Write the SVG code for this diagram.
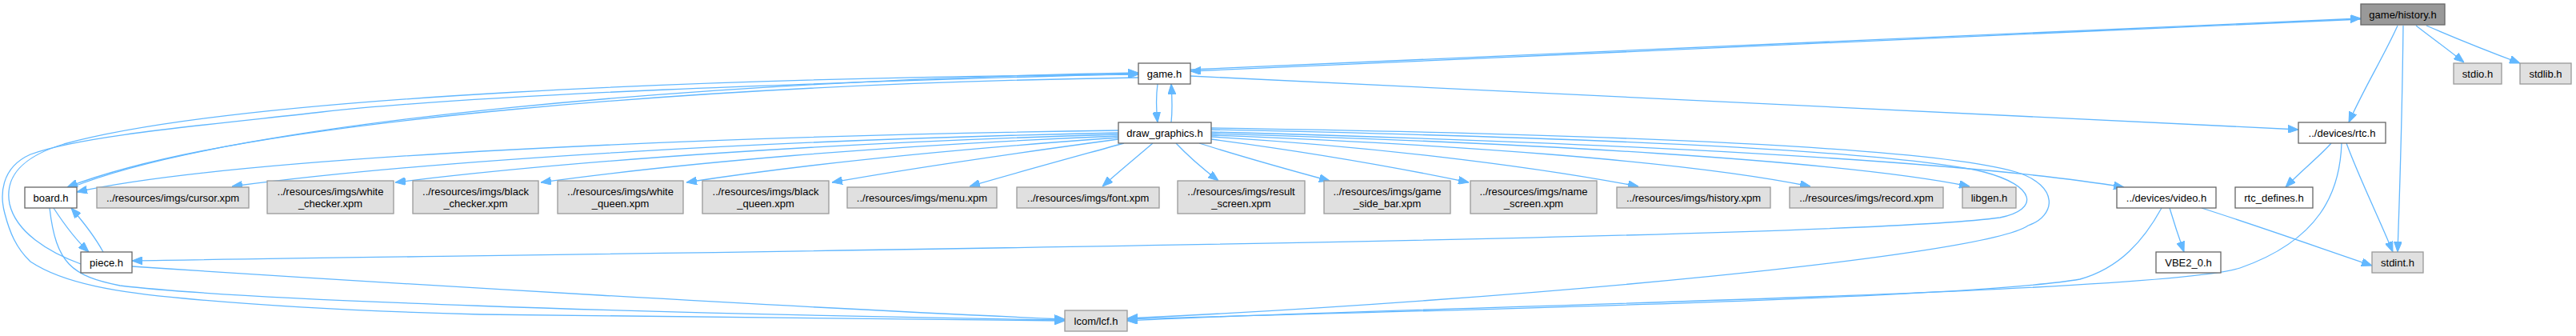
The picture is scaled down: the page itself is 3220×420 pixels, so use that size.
<svg xmlns="http://www.w3.org/2000/svg" width="3220" height="420" viewBox="0 0 3220 420">
<style>
text{font-family:"Liberation Sans",Arial,sans-serif;font-size:13px;fill:#000;text-anchor:middle}
.w{fill:#fff;stroke:#666;stroke-width:1.3}
.g{fill:#e0e0e0;stroke:#999;stroke-width:1.3}
.r{fill:#999;stroke:#666;stroke-width:1.3}
.e{fill:none;stroke:#63b8ff;stroke-width:1.3;marker-end:url(#a)}
</style>
<defs>
<marker id="a" markerUnits="userSpaceOnUse" viewBox="0 0 13 10" refX="13" refY="5" markerWidth="13" markerHeight="10" orient="auto">
<path d="M0,0 L13,5 L0,10 z" fill="#63b8ff" stroke="#63b8ff" stroke-width="1"/>
</marker>
</defs>
<rect width="3220" height="420" fill="#fff"/>
<g id="edges">
<path class="e" d="M2951,24 L1488,89"/>
<path class="e" d="M1488,87 L2951,23"/>
<path class="e" d="M2997,32 C2980,70 2955,110 2936,153"/>
<path class="e" d="M3004,32 C3003,120 3000,230 2997,315"/>
<path class="e" d="M3020,32 C3038,46 3060,62 3080,78"/>
<path class="e" d="M3033,32 C3070,48 3110,64 3150,79"/>
<path class="e" d="M1488,95 L2873,162"/>
<path class="e" d="M1447,105 C1445,120 1445,135 1447,153"/>
<path class="e" d="M1464,153 C1466,135 1465,120 1464,105"/>
<path class="e" d="M2914,179 C2900,195 2875,215 2857,234"/>
<path class="e" d="M2933,179 C2950,225 2975,275 2991,315"/>
<path class="e" d="M2927,179 C2925,240 2900,300 2800,335 C2700,368 1700,385 1409,401"/>
<path class="e" d="M2712,260 C2718,280 2724,298 2730,315"/>
<path class="e" d="M2752,260 C2830,285 2900,310 2965,332"/>
<path class="e" d="M2702,260 C2680,300 2650,335 2600,349 C2450,375 1700,390 1409,399"/>
<path class="e" d="M1514,165 C2000,178 2450,200 2655,234"/>
<path class="e" d="M1514,167 C1900,178 2300,200 2462,233"/>
<path class="e" d="M1514,169 C1800,180 2100,200 2263,233"/>
<path class="e" d="M1514,171 C1700,182 1900,205 2048,233"/>
<path class="e" d="M1514,174 C1620,188 1740,208 1836,228"/>
<path class="e" d="M1499,179 C1550,195 1610,212 1662,226"/>
<path class="e" d="M1470,179 C1485,195 1505,212 1523,226"/>
<path class="e" d="M1441,179 C1420,197 1398,215 1378,233"/>
<path class="e" d="M1405,179 C1340,197 1270,216 1212,233"/>
<path class="e" d="M1398,174 C1280,190 1140,210 1040,228"/>
<path class="e" d="M1398,172 C1200,186 1000,206 858,228"/>
<path class="e" d="M1398,170 C1100,182 850,204 676,228"/>
<path class="e" d="M1398,168 C1050,178 720,200 494,228"/>
<path class="e" d="M1398,166 C1000,174 550,198 290,233"/>
<path class="e" d="M1398,163 C900,170 300,195 96,240"/>
<path class="e" d="M1514,162 C1900,170 2350,185 2480,215 C2545,232 2550,262 2500,272 C2300,300 800,316 165,326"/>
<path class="e" d="M1514,160 C1900,166 2400,180 2520,215 C2575,232 2570,270 2535,282 C2480,320 1900,375 1409,398"/>
<path class="e" d="M1423,97 C900,105 300,150 84,234"/>
<path class="e" d="M90,234 C300,150 900,100 1423,91"/>
<path class="e" d="M101,330 C60,315 20,290 12,255 C5,220 30,195 80,180 C300,120 900,97 1423,93"/>
<path class="e" d="M1423,92 C1000,104 600,118 402,140 C250,157 100,170 38,193 C0,210 0,245 6,267 C12,290 20,310 38,327 C80,355 150,366 230,373 C350,384 480,390 600,393 C900,398 1200,400 1331,401"/>
<path class="e" d="M67,260 C80,280 95,300 111,315"/>
<path class="e" d="M129,315 C118,295 102,275 89,260"/>
<path class="e" d="M62,260 C70,330 90,345 150,357 C300,375 800,392 1331,400"/>
<path class="e" d="M165,333 C500,355 1000,385 1331,399"/>
</g>
<g id="n_history"><rect class="r" x="2951" y="5" width="105" height="26"/><text x="3003.5" y="22.6">game/history.h</text></g>
<g id="n_game"><rect class="w" x="1423" y="79" width="65" height="26"/><text x="1455.5" y="96.6">game.h</text></g>
<g id="n_stdio"><rect class="g" x="3067" y="79" width="60" height="26"/><text x="3097" y="96.6">stdio.h</text></g>
<g id="n_stdlib"><rect class="g" x="3150" y="79" width="64" height="26"/><text x="3182" y="96.6">stdlib.h</text></g>
<g id="n_draw"><rect class="w" x="1398" y="153" width="116" height="26"/><text x="1456" y="170.6">draw_graphics.h</text></g>
<g id="n_rtc"><rect class="w" x="2873" y="153" width="109" height="26"/><text x="2927.5" y="170.6">../devices/rtc.h</text></g>
<g id="n_board"><rect class="w" x="31" y="234" width="65" height="26"/><text x="63.5" y="251.6">board.h</text></g>
<g id="n_cursor"><rect class="g" x="121" y="234" width="190" height="26"/><text x="216" y="251.6">../resources/imgs/cursor.xpm</text></g>
<g id="n_wchecker"><rect class="g" x="334" y="226" width="158" height="41"/><text x="413" y="244">../resources/imgs/white</text><text x="413" y="259">_checker.xpm</text></g>
<g id="n_bchecker"><rect class="g" x="516" y="226" width="157" height="41"/><text x="594.5" y="244">../resources/imgs/black</text><text x="594.5" y="259">_checker.xpm</text></g>
<g id="n_wqueen"><rect class="g" x="697" y="226" width="157" height="41"/><text x="775.5" y="244">../resources/imgs/white</text><text x="775.5" y="259">_queen.xpm</text></g>
<g id="n_bqueen"><rect class="g" x="878" y="226" width="158" height="41"/><text x="957" y="244">../resources/imgs/black</text><text x="957" y="259">_queen.xpm</text></g>
<g id="n_menu"><rect class="g" x="1059" y="234" width="187" height="26"/><text x="1152.5" y="251.6">../resources/imgs/menu.xpm</text></g>
<g id="n_font"><rect class="g" x="1271" y="234" width="178" height="26"/><text x="1360" y="251.6">../resources/imgs/font.xpm</text></g>
<g id="n_result"><rect class="g" x="1472" y="226" width="159" height="41"/><text x="1551.5" y="244">../resources/imgs/result</text><text x="1551.5" y="259">_screen.xpm</text></g>
<g id="n_sidebar"><rect class="g" x="1655" y="226" width="158" height="41"/><text x="1734" y="244">../resources/imgs/game</text><text x="1734" y="259">_side_bar.xpm</text></g>
<g id="n_name"><rect class="g" x="1838" y="226" width="158" height="41"/><text x="1917" y="244">../resources/imgs/name</text><text x="1917" y="259">_screen.xpm</text></g>
<g id="n_histxpm"><rect class="g" x="2021" y="234" width="192" height="26"/><text x="2117" y="251.6">../resources/imgs/history.xpm</text></g>
<g id="n_record"><rect class="g" x="2237" y="234" width="192" height="26"/><text x="2333" y="251.6">../resources/imgs/record.xpm</text></g>
<g id="n_libgen"><rect class="g" x="2453" y="234" width="67" height="26"/><text x="2486.5" y="251.6">libgen.h</text></g>
<g id="n_video"><rect class="w" x="2646" y="234" width="124" height="26"/><text x="2708" y="251.6">../devices/video.h</text></g>
<g id="n_rtcdef"><rect class="w" x="2794" y="234" width="97" height="26"/><text x="2842.5" y="251.6">rtc_defines.h</text></g>
<g id="n_piece"><rect class="w" x="101" y="315" width="64" height="26"/><text x="133" y="332.6">piece.h</text></g>
<g id="n_vbe"><rect class="w" x="2695" y="315" width="81" height="26"/><text x="2735.5" y="332.6">VBE2_0.h</text></g>
<g id="n_stdint"><rect class="g" x="2965" y="315" width="64" height="26"/><text x="2997" y="332.6">stdint.h</text></g>
<g id="n_lcf"><rect class="g" x="1331" y="388" width="78" height="26"/><text x="1370" y="405.6">lcom/lcf.h</text></g>
</svg>
